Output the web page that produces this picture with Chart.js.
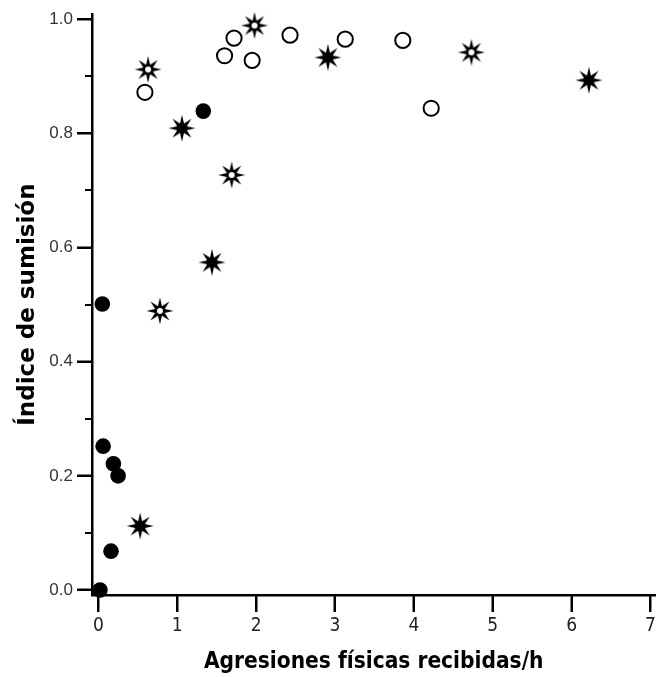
<!DOCTYPE html>
<html>
<head>
<meta charset="utf-8">
<script src="https://cdn.jsdelivr.net/npm/chart.js@4.4.1/dist/chart.umd.min.js"></script>
<style>
html,body{margin:0;padding:0;background:#fff;}
#wrap{width:665px;height:677px;}
</style>
</head>
<body>
<div id="wrap"><canvas id="chart"></canvas></div>
<script>
// grupo 1: círculos negros
var filledX = [0.02, 0.05, 0.06, 0.19, 0.25, 0.16, 1.33];
var filledY = [0.0, 0.501, 0.252, 0.221, 0.200, 0.068, 0.839];
// grupo 2: círculos blancos
var openX = [0.59, 1.60, 1.72, 1.95, 2.43, 3.13, 3.86, 4.22];
var openY = [0.872, 0.936, 0.967, 0.928, 0.972, 0.965, 0.963, 0.844];
// grupo 3: estrellas negras
var starX = [0.53, 1.06, 1.44, 2.91, 6.22];
var starY = [0.112, 0.809, 0.574, 0.933, 0.893];
// grupo 4: estrellas con centro blanco
var hstarX = [0.78, 0.63, 1.69, 1.98, 4.73];
var hstarY = [0.489, 0.912, 0.727, 0.989, 0.942];

var xTicks = [0, 1, 2, 3, 4, 5, 6, 7];
var yTicks = [0, 0.2, 0.4, 0.6, 0.8, 1.0];
var yMinor = [0.1, 0.3, 0.5, 0.7, 0.9];

function pts(xs, ys) {
  return xs.map(function (x, i) { return {x: x, y: ys[i]}; });
}

function makeStar(hollow) {
  var c = document.createElement('canvas');
  c.width = 30; c.height = 30;
  var g = c.getContext('2d');
  var R = 13.5, r = 5.2;
  g.beginPath();
  for (var i = 0; i < 16; i++) {
    var a = -Math.PI / 2 + i * Math.PI / 8;
    var rr = i % 2 ? r : R;
    g.lineTo(15 + rr * Math.cos(a), 15 + rr * Math.sin(a));
  }
  g.closePath();
  g.fillStyle = '#000';
  g.fill();
  if (hollow) {
    g.beginPath();
    g.arc(15, 15, 3, 0, Math.PI * 2);
    g.fillStyle = '#fff';
    g.fill();
  }
  return c;
}

// marcas de los ejes (mayores y menores)
var axisTicks = {
  id: 'axisTicks',
  afterDraw: function (chart) {
    var xs = chart.scales.x, ys = chart.scales.y, g = chart.ctx;
    g.save();
    g.strokeStyle = '#000';
    g.lineWidth = 2;
    function seg(x1, y1, x2, y2) {
      g.beginPath(); g.moveTo(x1, y1); g.lineTo(x2, y2); g.stroke();
    }
    yTicks.forEach(function (v) {
      var p = Math.round(ys.getPixelForValue(v));
      seg(ys.right - 15, p, ys.right, p);
    });
    yMinor.forEach(function (v) {
      var p = Math.round(ys.getPixelForValue(v));
      seg(ys.right - 7, p, ys.right, p);
    });
    xTicks.forEach(function (v) {
      var p = Math.round(xs.getPixelForValue(v));
      seg(p, xs.top, p, xs.top + 17);
    });
    g.restore();
  }
};

Chart.defaults.color = '#000';
Chart.defaults.font.family = '"Liberation Sans", Arial, sans-serif';

new Chart(document.getElementById('chart'), {
  type: 'scatter',
  data: {
    datasets: [
      {data: pts(filledX, filledY), pointStyle: 'circle', pointRadius: 7.8,
       backgroundColor: '#000', borderColor: '#000', borderWidth: 0, clip: false},
      {data: pts(openX, openY), pointStyle: 'circle', pointRadius: 7.6,
       backgroundColor: '#fff', borderColor: '#000', borderWidth: 2, clip: false},
      {data: pts(starX, starY), pointStyle: makeStar(false), clip: false},
      {data: pts(hstarX, hstarY), pointStyle: makeStar(true), clip: false}
    ]
  },
  options: {
    responsive: true,
    maintainAspectRatio: false,
    animation: false,
    events: [],
    layout: {padding: {top: 14, right: 2, left: 0, bottom: 0}},
    plugins: {legend: {display: false}, tooltip: {enabled: false}},
    scales: {
      x: {
        type: 'linear',
        min: -0.081, max: 7.063,
        afterBuildTicks: function (s) { s.ticks = xTicks.map(function (v) { return {value: v}; }); },
        afterFit: function (s) { s.height = 82; },
        border: {display: true, color: '#000', width: 2.5},
        grid: {drawOnChartArea: false, drawTicks: true, tickLength: 17, tickColor: '#000', tickWidth: 2},
        ticks: {padding: 3, color: '#222', maxRotation: 0,
                font: {family: '"Liberation Sans Narrow", "DejaVu Sans Condensed", sans-serif', size: 19},
                callback: function (v) { return v; }},
        title: {display: true, text: 'Agresiones físicas recibidas/h', color: '#000',
                font: {family: '"Liberation Sans Narrow", "DejaVu Sans Condensed", sans-serif', size: 22.5, weight: 'bold'},
                padding: {top: 0, bottom: 1}}
      },
      y: {
        type: 'linear',
        min: -0.0088, max: 1.0088,
        afterBuildTicks: function (s) { s.ticks = yTicks.map(function (v) { return {value: v}; }); },
        afterFit: function (s) { s.width = 92; },
        border: {display: true, color: '#000', width: 2.5},
        grid: {drawOnChartArea: false, drawTicks: true, tickLength: 15, tickColor: '#000', tickWidth: 2},
        ticks: {padding: 4, color: '#333', font: {size: 17},
                callback: function (v) { return v.toFixed(1); }},
        title: {display: true, text: 'Índice de sumisión', color: '#000',
                font: {family: '"DejaVu Sans", sans-serif', size: 23, weight: 'bold'},
                padding: {top: 14, bottom: 0}}
      }
    }
  },
  plugins: [axisTicks]
});
</script>
</body>
</html>
